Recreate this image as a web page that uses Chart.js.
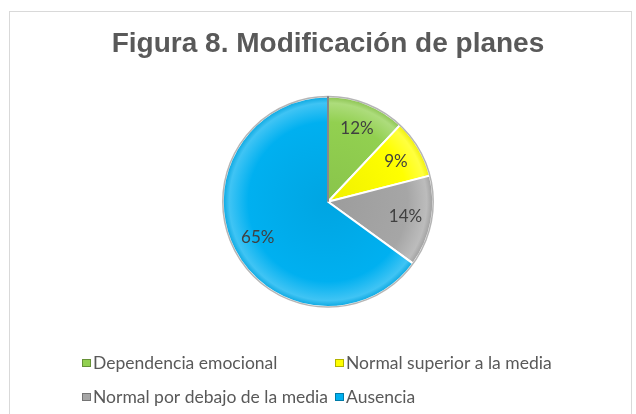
<!DOCTYPE html>
<html>
<head>
<meta charset="utf-8">
<script src="https://cdn.jsdelivr.net/npm/chart.js@4.4.1/dist/chart.umd.min.js"></script>
<style>
    body { margin: 0; background: #fff; }
    #wrap { position: relative; width: 636px; height: 414px; overflow: hidden; }
    #frame { position: absolute; left: 9px; top: 11px; width: 621px; height: 420px; border: 1px solid #d9d9d9; }
    canvas { position: absolute; left: 0; top: 0; }
</style>
</head>
<body>
<div id="wrap">
    <div id="frame"></div>
    <canvas id="myChart" width="636" height="414"></canvas>
</div>
<script>
// datos
const titulo = "Figura 8. Modificación de planes";
const categorias = ["Dependencia emocional", "Normal superior a la media", "Normal por debajo de la media", "Ausencia"];
const porcentajes = [12, 9, 14, 65];

// estilos
const colores = ["#92D050", "#FFFF00", "#A6A6A6", "#00B0F0"];

function mezcla(hex, otro, t) {
    const a = [1, 3, 5].map(i => parseInt(hex.substr(i, 2), 16));
    const b = [1, 3, 5].map(i => parseInt(otro.substr(i, 2), 16));
    return "rgb(" + a.map((v, i) => Math.round(v + (b[i] - v) * t)).join(",") + ")";
}

function sombra(context) {
    const chart = context.chart;
    const area = chart.chartArea;
    const base = colores[context.dataIndex];
    if (!area) return base;
    const cx = (area.left + area.right) / 2;
    const cy = (area.top + area.bottom) / 2;
    const r = Math.min(area.width, area.height) / 2;
    const g = chart.ctx.createRadialGradient(cx, cy, 0, cx, cy, r);
    g.addColorStop(0, mezcla(base, "#000000", 0.06));
    g.addColorStop(0.75, base);
    g.addColorStop(0.93, mezcla(base, "#ffffff", 0.25));
    g.addColorStop(1, mezcla(base, "#000000", 0.08));
    return g;
}

// etiquetas de porcentaje y borde exterior
const etiquetas = {
    id: "etiquetas",
    afterDatasetsDraw(chart) {
        const ctx = chart.ctx;
        const meta = chart.getDatasetMeta(0);
        const p0 = meta.data[0].getProps(["x", "y", "outerRadius", "startAngle"]);
        ctx.save();
        ctx.beginPath();
        ctx.arc(p0.x, p0.y, p0.outerRadius, 0, Math.PI * 2);
        ctx.strokeStyle = "rgba(120,120,120,0.55)";
        ctx.lineWidth = 1.5;
        ctx.stroke();

        // borde oscuro al inicio del primer sector
        ctx.beginPath();
        ctx.moveTo(p0.x, p0.y);
        ctx.lineTo(p0.x + Math.cos(p0.startAngle) * p0.outerRadius, p0.y + Math.sin(p0.startAngle) * p0.outerRadius);
        ctx.strokeStyle = "#3a3a3a";
        ctx.lineWidth = 1.2;
        ctx.stroke();

        ctx.font = "17px Lato";
        ctx.fillStyle = "#404040";
        ctx.textAlign = "center";
        ctx.textBaseline = "middle";
        meta.data.forEach((arc, i) => {
            const p = arc.getProps(["x", "y", "startAngle", "endAngle", "outerRadius"]);
            const mid = (p.startAngle + p.endAngle) / 2;
            const d = p.outerRadius * 0.75;
            ctx.fillText(porcentajes[i] + "%", p.x + Math.cos(mid) * d, p.y + Math.sin(mid) * d);
        });
        ctx.restore();
    }
};

// leyenda en dos columnas
const leyenda = {
    id: "leyenda",
    afterDraw(chart, args, opts) {
        const ctx = chart.ctx;
        ctx.save();
        ctx.font = opts.font;
        ctx.textBaseline = "middle";
        categorias.forEach((cat, i) => {
            const x = opts.cols[i % 2];
            const y = opts.rows[Math.floor(i / 2)];
            ctx.fillStyle = colores[i];
            ctx.fillRect(x, y - 4, 9, 8);
            ctx.strokeStyle = "rgba(0,0,0,0.3)";
            ctx.lineWidth = 1;
            ctx.strokeRect(x + 0.5, y - 3.5, 8, 7);
            ctx.fillStyle = "#595959";
            ctx.fillText(cat, x + 11, y);
        });
        ctx.restore();
    }
};

const config = {
    type: "pie",
    data: {
        labels: categorias,
        datasets: [{
            data: porcentajes,
            backgroundColor: sombra,
            borderColor: "#ffffff",
            borderWidth: 2
        }]
    },
    options: {
        responsive: false,
        animation: false,
        devicePixelRatio: 1,
        layout: { padding: { left: 20, right: 0, top: 0, bottom: 106 } },
        plugins: {
            title: {
                display: true,
                text: titulo,
                color: "#595959",
                font: { family: "Liberation Sans", size: 28, weight: "bold" },
                padding: { top: 27, bottom: 35 }
            },
            legend: { display: false },
            tooltip: { enabled: false },
            leyenda: { font: "17.5px Lato", cols: [82, 335], rows: [363, 397] }
        }
    },
    plugins: [etiquetas, leyenda]
};

const myChart = new Chart(document.getElementById("myChart"), config);
</script>
</body>
</html>
